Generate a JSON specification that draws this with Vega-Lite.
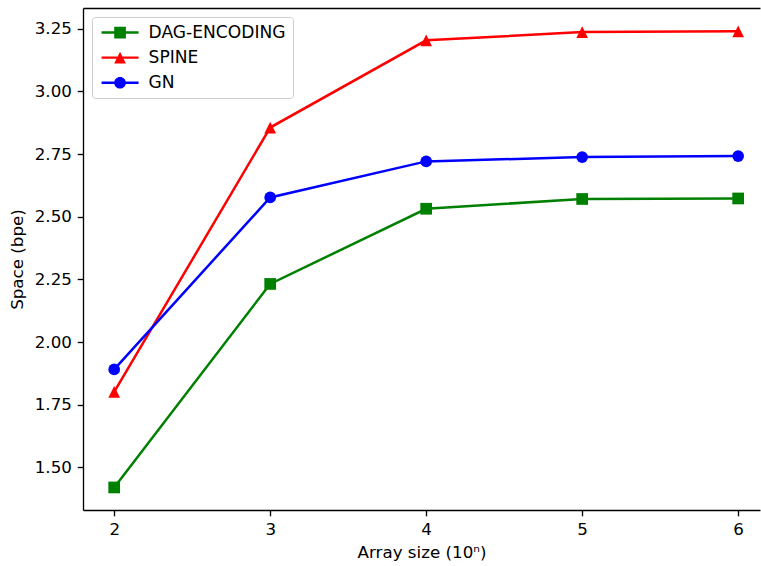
{
  "$schema": "https://vega.github.io/schema/vega-lite/v6.json",
  "width": 677,
  "height": 502,
  "autosize": "none",
  "padding": {"left": 83, "top": 8, "right": 1, "bottom": 56},
  "background": "white",
  "config": {
    "view": {"stroke": null},
    "font": "DejaVu Sans",
    "axis": {
      "domainColor": "black",
      "domainWidth": 1.33,
      "tickColor": "black",
      "tickWidth": 1.33,
      "tickSize": 5.8,
      "labelFont": "DejaVu Sans",
      "labelFontSize": 16.7,
      "labelColor": "black",
      "labelPadding": 5.8,
      "titleFont": "DejaVu Sans",
      "titleFontSize": 16.7,
      "titleFontWeight": "normal",
      "titleColor": "black",
      "grid": false
    },
    "legend": {
      "orient": "top-left",
      "offset": 9,
      "padding": 7,
      "strokeColor": "#cccccc",
      "cornerRadius": 3,
      "fillColor": "rgba(255,255,255,0.8)",
      "labelFont": "DejaVu Sans",
      "labelFontSize": 17.1,
      "labelColor": "black",
      "labelOffset": 20,
      "symbolSize": 144,
      "symbolOffset": 12.5,
      "symbolOpacity": 1,
      "symbolStrokeWidth": 0,
      "rowPadding": 7.1
    }
  },
  "data": {
    "values": [
      {"n": 2, "bpe": 1.42, "method": "DAG-ENCODING"},
      {"n": 3, "bpe": 2.232, "method": "DAG-ENCODING"},
      {"n": 4, "bpe": 2.532, "method": "DAG-ENCODING"},
      {"n": 5, "bpe": 2.571, "method": "DAG-ENCODING"},
      {"n": 6, "bpe": 2.573, "method": "DAG-ENCODING"},
      {"n": 2, "bpe": 1.801, "method": "SPINE"},
      {"n": 3, "bpe": 2.856, "method": "SPINE"},
      {"n": 4, "bpe": 3.204, "method": "SPINE"},
      {"n": 5, "bpe": 3.237, "method": "SPINE"},
      {"n": 6, "bpe": 3.24, "method": "SPINE"},
      {"n": 2, "bpe": 1.891, "method": "GN"},
      {"n": 3, "bpe": 2.577, "method": "GN"},
      {"n": 4, "bpe": 2.721, "method": "GN"},
      {"n": 5, "bpe": 2.738, "method": "GN"},
      {"n": 6, "bpe": 2.742, "method": "GN"}
    ]
  },
  "layer": [
    {
      "mark": {"type": "line", "strokeWidth": 2.5},
      "encoding": {
        "x": {
          "field": "n",
          "type": "quantitative",
          "scale": {"domain": [1.8, 6.14], "nice": false, "zero": false},
          "axis": {
            "orient": "bottom",
            "values": [2, 3, 4, 5, 6],
            "format": "d",
            "title": "Array size (10ⁿ)",
            "titlePadding": 6
          }
        },
        "y": {
          "field": "bpe",
          "type": "quantitative",
          "scale": {"domain": [1.33, 3.333], "nice": false, "zero": false},
          "axis": {
            "values": [1.5, 1.75, 2.0, 2.25, 2.5, 2.75, 3.0, 3.25],
            "format": ".2f",
            "title": "Space (bpe)",
            "titlePadding": 8
          }
        },
        "color": {
          "field": "method",
          "type": "nominal",
          "scale": {
            "domain": ["DAG-ENCODING", "SPINE", "GN"],
            "range": ["#008000", "#ff0000", "#0000ff"]
          },
          "legend": null
        }
      }
    },
    {
      "mark": {"type": "point", "filled": true, "opacity": 1, "size": 137},
      "encoding": {
        "x": {
          "field": "n",
          "type": "quantitative",
          "axis": {
            "orient": "top",
            "labels": false,
            "ticks": false,
            "title": null
          }
        },
        "y": {"field": "bpe", "type": "quantitative"},
        "color": {
          "field": "method",
          "type": "nominal",
          "scale": {
            "domain": ["DAG-ENCODING", "SPINE", "GN"],
            "range": ["#008000", "#ff0000", "#0000ff"]
          },
          "legend": null
        },
        "shape": {
          "field": "method",
          "type": "nominal",
          "scale": {
            "domain": ["DAG-ENCODING", "SPINE", "GN"],
            "range": ["square", "M0,-1L1,1L-1,1Z", "circle"]
          },
          "legend": null
        }
      }
    },
    {
      "description": "Key entries: a line segment with the series marker, like the plotted series",
      "mark": {"type": "point", "filled": true, "opacity": 0, "size": 144},
      "encoding": {
        "x": {"field": "n", "type": "quantitative", "axis": null},
        "y": {"field": "bpe", "type": "quantitative"},
        "color": {
          "field": "method",
          "type": "nominal",
          "title": null,
          "scale": {
            "domain": ["DAG-ENCODING", "SPINE", "GN"],
            "range": ["#008000", "#ff0000", "#0000ff"]
          },
          "legend": {"title": null}
        },
        "shape": {
          "field": "method",
          "type": "nominal",
          "title": null,
          "scale": {
            "domain": ["DAG-ENCODING", "SPINE", "GN"],
            "range": [
              "M-3.083,-0.2L3.083,-0.2L3.083,0.2L-3.083,0.2ZM-0.975,-0.975L0.975,-0.975L0.975,0.975L-0.975,0.975Z",
              "M-3.083,-0.2L3.083,-0.2L3.083,0.2L-3.083,0.2ZM0,-0.975L0.975,0.975L-0.975,0.975Z",
              "M-3.083,-0.2L3.083,-0.2L3.083,0.2L-3.083,0.2ZM0.975,0A0.975,0.975 0 1,1 -0.975,0A0.975,0.975 0 1,1 0.975,0Z"
            ]
          },
          "legend": {"title": null}
        }
      }
    }
  ],
  "resolve": {
    "axis": {"x": "independent"},
    "scale": {"shape": "independent", "color": "independent"}
  }
}
